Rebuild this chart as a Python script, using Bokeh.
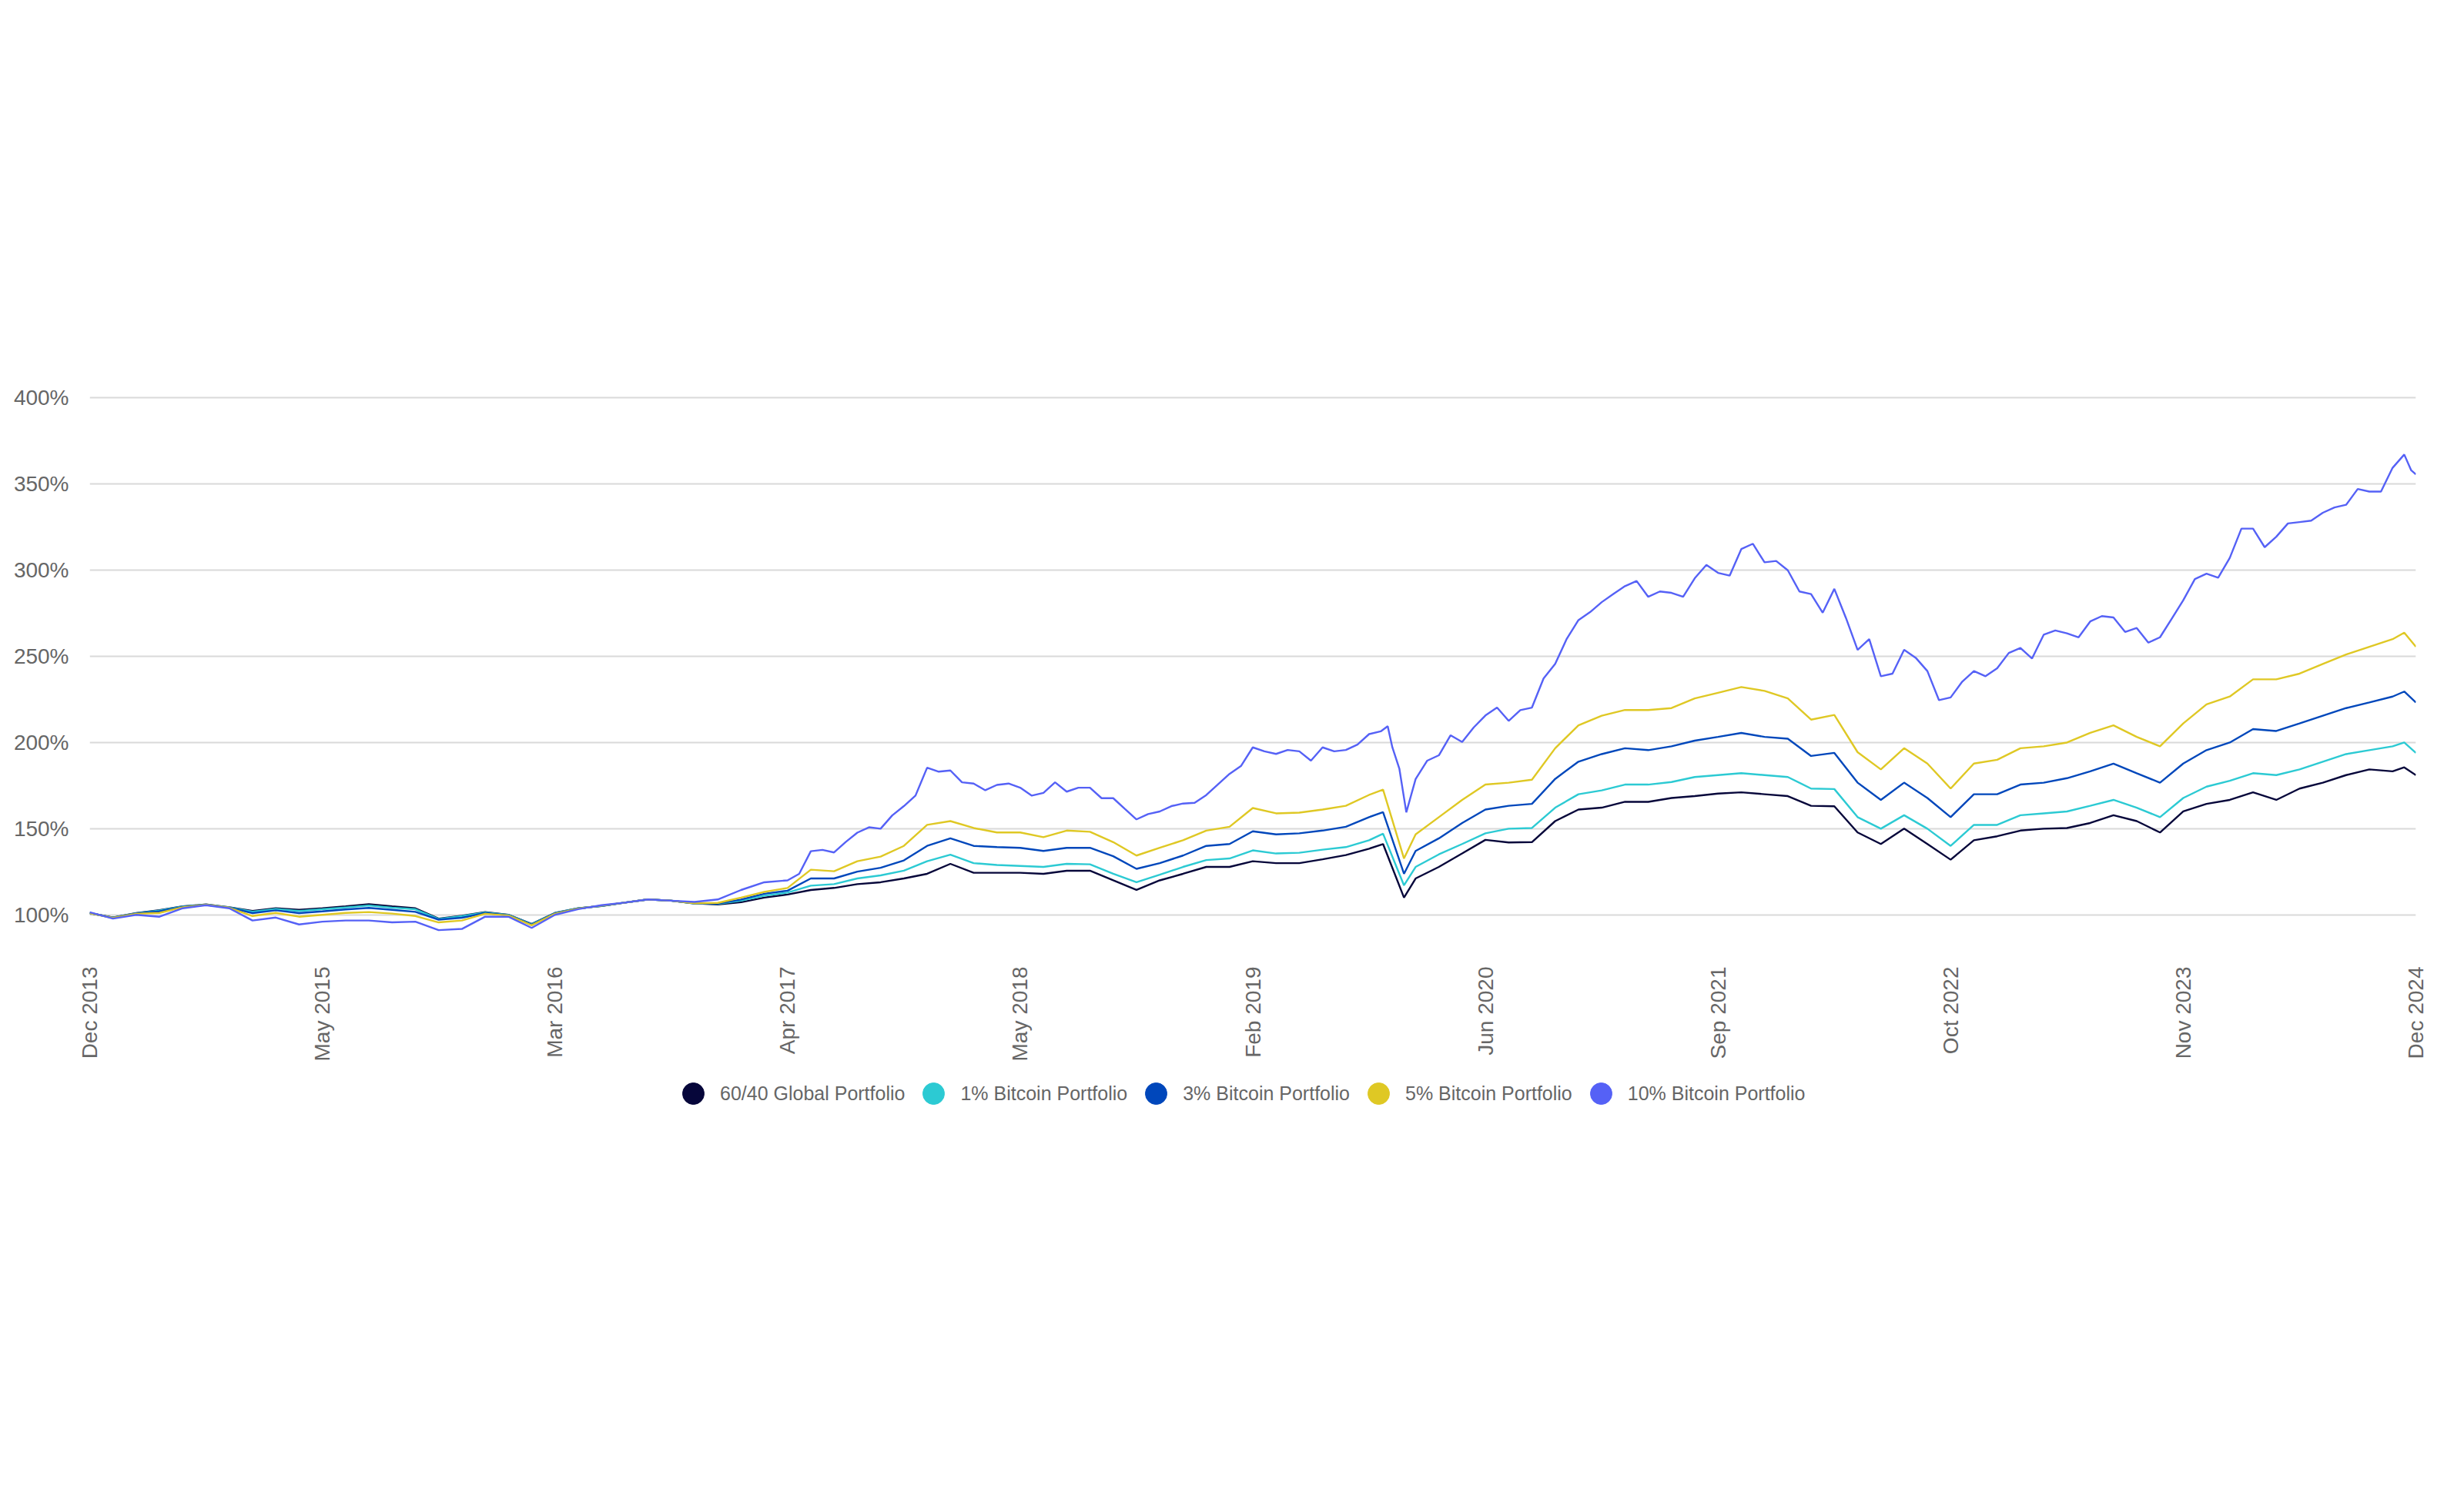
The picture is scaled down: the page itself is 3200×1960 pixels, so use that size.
import math
from bokeh.plotting import figure
from bokeh.layouts import column
from bokeh.models import Range1d, FixedTicker, Legend, LegendItem, PrintfTickFormatter
from bokeh.embed import file_html
from bokeh.resources import INLINE

# observation index (evenly spaced labels on x axis)
t = list(range(0, 56)) + [55.6, 56.5] + list(range(57, 100)) + [99.5, 100]
# finer observation index used for the (most volatile) 10% series
t10 = (list(range(0, 30)) + [i / 2 for i in range(60, 112)] + [55.8, 56, 56.3, 56.6]
       + [i / 2 for i in range(114, 200)] + [99.8, 100])

tick_pos = [0, 10, 20, 30, 40, 50, 60, 70, 80, 90, 100]
tick_labels = ["Dec 2013", "May 2015", "Mar 2016", "Apr 2017", "May 2018", "Feb 2019",
               "Jun 2020", "Sep 2021", "Oct 2022", "Nov 2023", "Dec 2024"]

series_names = ["60/40 Global Portfolio", "1% Bitcoin Portfolio", "3% Bitcoin Portfolio",
                "5% Bitcoin Portfolio", "10% Bitcoin Portfolio"]
series_colors = ["#06063a", "#2ccad3", "#0047bb", "#dfc824", "#5561f6"]

global_6040 = [
    101, 98.5, 101, 102.7, 104.9, 106, 104.4, 102.2, 103.8, 102.9, 103.8, 104.9, 106.2, 104.9, 103.8, 97.8,
    99.5, 101.6, 100, 94.7, 101.1, 103.8, 105.1, 107.1, 108.9, 108.2,
    106.7, 106, 107.3, 110, 111.8, 114.4, 115.6, 117.8, 118.9, 121.1, 123.8, 129.6, 124.4, 124.4, 124.4,
    123.8, 125.6, 125.6, 120, 114.5, 120, 123.8, 127.8, 127.8, 131.1,
    130, 130, 132.2, 134.7, 138.4, 141.1, 110,
    121.1, 127.8, 135.6, 143.5, 142, 142.2, 154.4, 161.1, 162.2, 165.6, 165.6, 167.8, 168.9, 170.4, 171.1,
    170, 168.9, 163.3, 163,
    147.8, 141.1, 150, 141.1, 132, 143.3, 145.6, 148.9, 150, 150.4, 153.3, 157.8, 154.4, 147.8, 160, 164.4,
    166.7, 171.1, 166.7, 173.3, 176.7, 181.1, 184.4, 183.3, 185.6, 181.1,
]

btc_1 = [
    101, 98.4, 100.9, 102.5, 104.8, 105.9, 104.3, 101.8, 103.4, 102.2, 103.2, 104.3, 105.4, 104.2, 103.2, 97.6,
    99.2, 101.4, 99.9, 94.6, 101.0, 103.8, 105.1, 107.1, 108.9, 108.2,
    106.6, 106.3, 108.2, 111.1, 112.9, 116.9, 117.8, 121.1, 122.9, 125.6, 131.1, 134.9, 130, 128.9, 128.4,
    127.8, 129.6, 129.3, 123.8, 118.9, 123.3, 127.8, 131.8, 132.7, 137.4,
    135.6, 136, 137.8, 139.3, 143.3, 147.1, 117.1,
    127.8, 135.1, 141.1, 147.3, 150, 150.4, 162.2, 170, 172.2, 175.6, 175.6, 177.1, 180, 181.1, 182.2,
    181.1, 180, 173.3, 173,
    156.7, 150, 157.8, 150, 140, 152.2, 152.2, 157.8, 158.9, 160, 163.3, 166.7, 162.2, 156.7, 167.8, 174.4,
    177.8, 182.2, 181.1, 184.4, 188.9, 193.3, 195.6, 197.8, 200, 194,
]

btc_3 = [
    101, 98.3, 100.8, 102.0, 104.6, 105.8, 104.2, 101.0, 102.6, 101.0, 102.0, 103.1, 104.0, 102.9, 101.7, 97.2,
    98.3, 101.0, 99.7, 94.3, 100.8, 103.7, 105.2, 107.1, 108.9, 108.2,
    106.6, 106.5, 108.9, 112.2, 114, 121.1, 121.1, 125.1, 127.3, 131.6, 140, 144.4, 140, 139.3, 138.9,
    137.1, 138.9, 138.9, 134, 126.7, 130, 134.4, 140, 141.1, 148.5,
    146.7, 147.3, 148.9, 151.1, 156.7, 159.6, 123.8,
    137.1, 144.4, 153.3, 161.1, 163.3, 164.4, 178.9, 188.9, 193.3, 196.7, 195.6, 197.8, 201.1, 203.3, 205.6,
    203.3, 202.2, 192.2, 194,
    176.7, 166.7, 176.7, 167.8, 156.7, 170, 170, 175.6, 176.7, 179.3, 183.3, 187.8, 182.2, 176.7, 187.8, 195.6,
    200, 207.8, 206.7, 211.1, 215.6, 220, 223.3, 226.7, 229.6, 223.3,
]

btc_5 = [
    101, 98.2, 100.6, 101.1, 104.4, 105.8, 104.1, 99.3, 101.1, 98.9, 100, 101.1, 101.6, 100.7, 99.3, 95.6,
    96.7, 100.6, 99.6, 93.9, 100.6, 103.6, 105.3, 107.1, 108.9, 108.2,
    106.7, 106.9, 110, 113.3, 115.6, 126.2, 125.3, 131.1, 133.8, 140, 152.2, 154.4, 150.4, 147.8, 147.8,
    145.1, 148.9, 148.2, 142.2, 134.4, 138.9, 143.3, 148.9, 151.1, 162,
    158.9, 159.3, 161.1, 163.3, 169.6, 172.7, 132.7,
    146.7, 156.7, 166.7, 175.6, 176.7, 178.4, 196.7, 210, 215.6, 218.9, 218.9, 220, 225.6, 228.9, 232.2,
    230, 225.6, 213.3, 216,
    194.4, 184.4, 196.7, 187.8, 173.3, 187.8, 190, 196.7, 197.8, 200, 205.6, 210, 203.3, 197.8, 211.1, 222.2,
    226.7, 236.7, 236.7, 240, 245.6, 251.1, 255.6, 260, 263.8, 255.6,
]

btc_10 = [
    # 0 .. 29
    101.5, 97.8, 100, 98.9, 103.8, 105.6, 103.8, 96.7, 98.4, 94.4, 96, 96.7, 96.7, 95.6, 96, 91.1,
    91.8, 98.9, 98.9, 92.4, 100, 103.3, 105.6, 107.1, 108.9, 108.2, 107.5, 108.9, 114.4, 118.9,
    # 30 .. 55.5
    120, 123.8, 136.9, 137.7, 136.2, 142.3, 147.7, 150.8, 150, 157.7, 163.1, 169.2, 185.4, 183.1,
    183.8, 176.9, 176.2, 172.3, 175.4, 176.2, 173.8, 169.2, 170.8, 176.9, 171.5, 173.8, 173.8, 167.7,
    167.7, 161.5, 155.4, 158.5, 160, 163.1, 164.6, 165, 169.5, 175.7, 181.8, 186.5, 197.2, 194.9,
    193.4, 195.7, 194.9, 189.5, 197.2, 194.9, 195.7, 198.8, 204.9, 206.5,
    # crash
    209.5, 197.2, 184.9, 159.5,
    # 57 .. 99.5
    178.8, 189.5, 192.6, 204.2, 200.3, 208.8, 215.7, 220.3, 212.6, 218.8, 220.3, 237.2, 245.7, 260.3,
    271.1, 275.7,
    281.5, 286.2, 290.8, 293.8, 284.6, 287.7, 286.9, 284.6, 295.4, 303.1, 298.5, 296.9, 312.3, 315.4,
    304.6, 305.4, 300, 287.7, 286.2, 275.4,
    289.2, 272.3, 253.8, 260, 238.5, 240, 253.8, 249.2, 241.5, 224.6, 226.2, 235.4, 241.5, 238.5,
    243.1, 252, 254.9, 248.8, 262.6, 265.1,
    263.4, 261.1, 270.3, 273.4, 272.6, 264.2, 266.5, 258, 261.1, 271.8, 282.6, 294.9, 298, 295.7,
    307.2, 324.2, 324.2, 313.4, 319.5, 327.2,
    328, 328.8, 333.4, 336.5, 338, 347.2, 345.7, 345.7, 359.5, 367.2,
    # end
    358, 355.7,
]

all_x = [t, t, t, t, t10]
all_series = [global_6040, btc_1, btc_3, btc_5, btc_10]

FONT = "Liberation Sans"
GREY = "#666666"

p = figure(width=3200, height=1385, output_backend="svg", toolbar_location=None,
           x_range=Range1d(0, 100), y_range=Range1d(82, 402),
           min_border_left=116, min_border_right=63, min_border_top=512, min_border_bottom=157)
p.outline_line_color = None
p.background_fill_color = "white"
p.border_fill_color = "white"

p.xgrid.visible = False
p.ygrid.grid_line_color = "#d9d9d9"
p.ygrid.grid_line_width = 2

p.yaxis.ticker = FixedTicker(ticks=[100, 150, 200, 250, 300, 350, 400])
p.yaxis.formatter = PrintfTickFormatter(format="%d%%")
p.xaxis.ticker = FixedTicker(ticks=tick_pos)
p.xaxis.major_label_overrides = {pos: lab for pos, lab in zip(tick_pos, tick_labels)}
p.xaxis.major_label_orientation = math.pi / 2

for ax in (p.xaxis[0], p.yaxis[0]):
    ax.axis_line_color = None
    ax.major_tick_line_color = None
    ax.minor_tick_line_color = None
    ax.major_tick_out = 0
    ax.major_tick_in = 0
    ax.major_label_standoff = 27
    ax.major_label_text_font = FONT
    ax.major_label_text_font_size = "28px"
    ax.major_label_text_color = GREY

for color, xs, vals in zip(series_colors, all_x, all_series):
    p.line(xs, vals, line_color=color, line_width=2.4)

# legend strip below the chart (own figure, no axes)
lg = figure(width=3200, height=575, output_backend="svg", toolbar_location=None,
            x_range=Range1d(0, 1), y_range=Range1d(0, 1),
            x_axis_location=None, y_axis_location=None, min_border=0)
lg.outline_line_color = None
lg.grid.visible = False
lg.background_fill_color = "white"
lg.border_fill_color = "white"

items = []
for name, color in zip(series_names, series_colors):
    dot = lg.scatter(x=[t[0]], y=[-1000], marker="circle", size=28, fill_color=color, line_color=color)
    items.append(LegendItem(label=name, renderers=[dot]))

legend = Legend(items=items, orientation="horizontal", location=(749, 505),
                glyph_width=70, glyph_height=70, label_standoff=0, spacing=2,
                label_text_font=FONT, label_text_font_size="25px", label_text_color=GREY,
                border_line_color=None, background_fill_alpha=0, padding=0, margin=0)
lg.add_layout(legend, "center")

layout = column(p, lg, spacing=0)
open("out.html", "w").write(file_html(layout, INLINE))
